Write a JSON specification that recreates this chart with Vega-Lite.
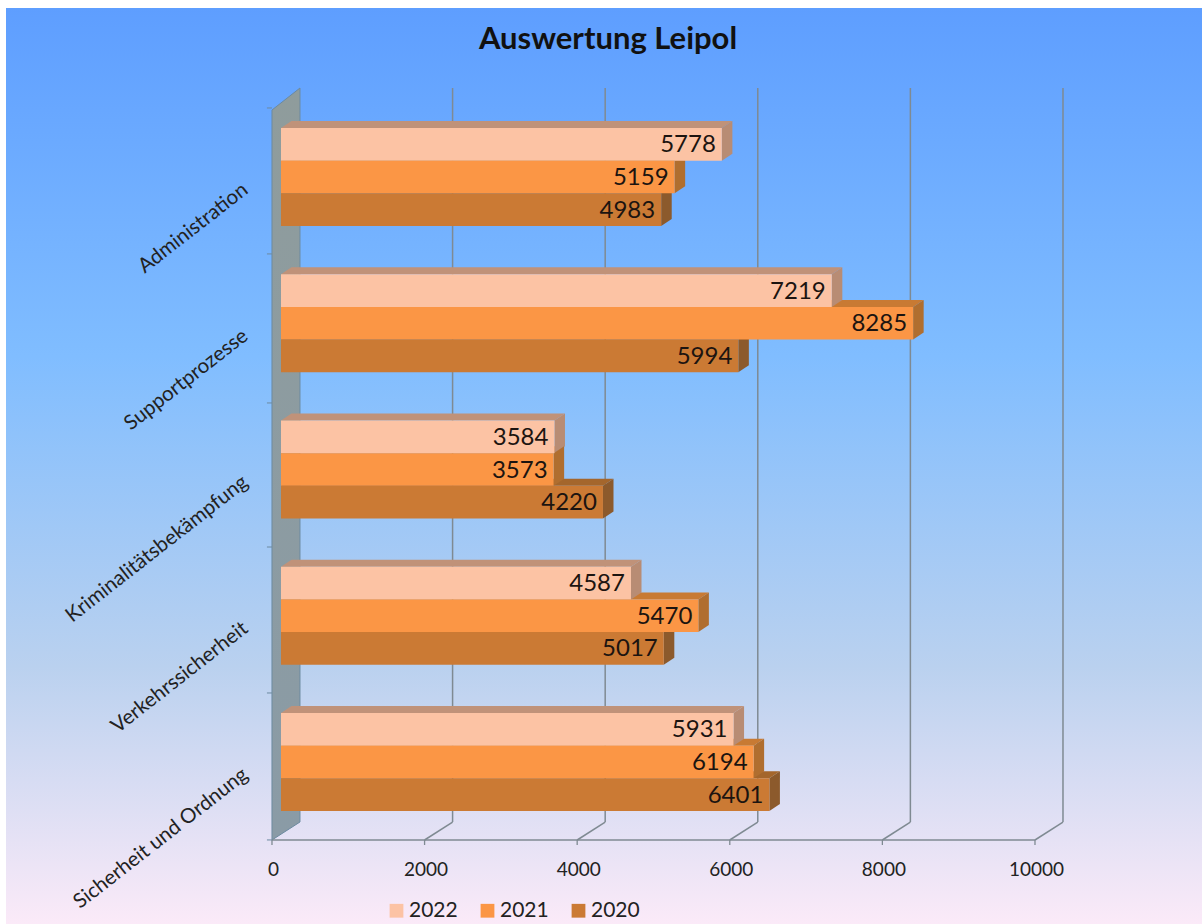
{
"$schema":"https://vega.github.io/schema/vega-lite/v6.json",
"width":1196,"height":916,
"padding":{"left":6,"top":8,"right":0,"bottom":0},
"autosize":{"type":"none"},
"background":"#ffffff",
"view":{"stroke":null,"fill":{"gradient":"linear","x1":0,"y1":0,"x2":0,"y2":1,"stops":[{"offset":0,"color":"#5e9eff"},{"offset":0.38,"color":"#80bdff"},{"offset":0.72,"color":"#bad1ef"},{"offset":1,"color":"#fbeaf8"}]}},
"title":{"text":"Auswertung Leipol","font":"Lato","fontSize":31,"fontWeight":"bold","color":"#111111","anchor":"middle","offset":-48,"dx":4},
"config":{"font":"Lato"},
"datasets":{
"bars":[
{"category":"Sicherheit und Ordnung","year":"2022","value":5931},
{"category":"Sicherheit und Ordnung","year":"2021","value":6194},
{"category":"Sicherheit und Ordnung","year":"2020","value":6401},
{"category":"Verkehrssicherheit","year":"2022","value":4587},
{"category":"Verkehrssicherheit","year":"2021","value":5470},
{"category":"Verkehrssicherheit","year":"2020","value":5017},
{"category":"Kriminalitätsbekämpfung","year":"2022","value":3584},
{"category":"Kriminalitätsbekämpfung","year":"2021","value":3573},
{"category":"Kriminalitätsbekämpfung","year":"2020","value":4220},
{"category":"Supportprozesse","year":"2022","value":7219},
{"category":"Supportprozesse","year":"2021","value":8285},
{"category":"Supportprozesse","year":"2020","value":5994},
{"category":"Administration","year":"2022","value":5778},
{"category":"Administration","year":"2021","value":5159},
{"category":"Administration","year":"2020","value":4983}],
"ticks":[{"t":0},{"t":2000},{"t":4000},{"t":6000},{"t":8000},{"t":10000}]
},
"layer":[
{"data":{"values":[{"d":0,"xp":-118,"lo":-0.5333,"hi":4.458},{"d":1,"xp":249,"lo":-0.4103,"hi":4.6085}]},
 "mark":{"type":"area","orient":"vertical","fill":{"gradient":"linear","x1":0,"y1":0,"x2":0,"y2":1,"stops":[{"offset":0,"color":"#8f9c9c"},{"offset":1,"color":"#8a9ba6"}]},"stroke":"#6c8aa0","strokeWidth":1},
 "encoding":{
  "x":{"field":"xp","type":"quantitative","title":null,"scale":{"domain":[-3604,12071],"nice":false,"zero":false},
   "axis":{"values":[0,2000,4000,6000,8000,10000],"grid":false,"domain":false,"ticks":false,"offset":-84,"labelOffset":-8,"labelPadding":20,"labelFont":"Lato","labelFontSize":19,"labelColor":"#222222","labelFlush":false,"format":"d","labelOverlap":false}},
  "y":{"field":"lo","type":"quantitative","title":null,"scale":{"domain":[-1.1077,5.1556],"nice":false,"zero":false},
   "axis":{"values":[0,1,2,3,4],"grid":false,"domain":false,"ticks":false,"offset":-266,"labelAngle":-38,"labelAlign":"right","labelBaseline":"middle","labelOffset":10,"labelPadding":27,"labelFont":"Lato","labelFontSize":20.5,"labelColor":"#222222","labelOverlap":false,"labelLimit":400,"labelExpr":"['Sicherheit und Ordnung','Verkehrssicherheit','Kriminalitätsbekämpfung','Supportprozesse','Administration'][datum.value]"}},
  "y2":{"field":"hi"}
 }},
{"data":{"name":"ticks"},
 "transform":[{"filter":"datum.t>0"},{"calculate":"datum.t+249","as":"xb"},{"calculate":"-0.4103","as":"ya"},{"calculate":"4.6085","as":"yb"}],
 "mark":{"type":"rule","color":"#7f8a92","strokeWidth":1.5},
 "encoding":{
  "x":{"field":"xb","type":"quantitative","scale":{"domain":[-3604,12071],"nice":false,"zero":false}},
  "y":{"field":"ya","type":"quantitative","scale":{"domain":[-1.1077,5.1556],"nice":false,"zero":false}},
  "y2":{"field":"yb"}
 }},
{"data":{"name":"ticks"},
 "transform":[{"filter":"datum.t>0"},{"calculate":"datum.t+249","as":"xb"},{"calculate":"datum.t-118","as":"xf"},{"calculate":"-0.5333","as":"ya"},{"calculate":"-0.4103","as":"yb"}],
 "mark":{"type":"rule","color":"#7f8a92","strokeWidth":1.5},
 "encoding":{
  "x":{"field":"xf","type":"quantitative","scale":{"domain":[-3604,12071],"nice":false,"zero":false}},
  "x2":{"field":"xb"},
  "y":{"field":"ya","type":"quantitative","scale":{"domain":[-1.1077,5.1556],"nice":false,"zero":false}},
  "y2":{"field":"yb"}
 }},
{"data":{"name":"ticks"},
 "transform":[{"calculate":"datum.t-118","as":"xf"},{"calculate":"-0.5333","as":"ya"},{"calculate":"-0.5675","as":"yb"}],
 "mark":{"type":"rule","color":"#7f8a92","strokeWidth":1.3},
 "encoding":{
  "x":{"field":"xf","type":"quantitative","scale":{"domain":[-3604,12071],"nice":false,"zero":false}},
  "y":{"field":"ya","type":"quantitative","scale":{"domain":[-1.1077,5.1556],"nice":false,"zero":false}},
  "y2":{"field":"yb"}
 }},
{"data":{"values":[{"a":-118,"b":9882,"ya":-0.5333}]},
 "mark":{"type":"rule","color":"#7f8a92","strokeWidth":1.7},
 "encoding":{
  "x":{"field":"a","type":"quantitative","scale":{"domain":[-3604,12071],"nice":false,"zero":false}},
  "x2":{"field":"b"},
  "y":{"field":"ya","type":"quantitative","scale":{"domain":[-1.1077,5.1556],"nice":false,"zero":false}}
 }},
{"data":{"values":[{"b":-0.533,"a":-184,"c":-118},{"b":0.472,"a":-184,"c":-118},{"b":1.47,"a":-184,"c":-118},{"b":2.455,"a":-184,"c":-118},{"b":3.474,"a":-184,"c":-118},{"b":4.472,"a":-184,"c":-118}]},
 "mark":{"type":"rule","color":"#6c8aa0","strokeWidth":1},
 "encoding":{
  "x":{"field":"a","type":"quantitative","scale":{"domain":[-3604,12071],"nice":false,"zero":false}},
  "x2":{"field":"c"},
  "y":{"field":"b","type":"quantitative","scale":{"domain":[-1.1077,5.1556],"nice":false,"zero":false}}
 }},
{"data":{"name":"bars"},
 "transform":[
  {"calculate":"indexof(['Sicherheit und Ordnung','Verkehrssicherheit','Kriminalitätsbekämpfung','Supportprozesse','Administration'],datum.category)+(indexof(['2020','2021','2022'],datum.year)-1)*0.2236","as":"yc"},
  {"calculate":"[0,1]","as":"t"},{"flatten":["t"]},
  {"calculate":"datum.t*138","as":"xa"},{"calculate":"datum.value+datum.t*138","as":"xb"},
  {"calculate":"datum.yc+0.1118+datum.t*0.0479","as":"yy"}],
 "mark":{"type":"area","orient":"horizontal"},
 "encoding":{
  "x":{"field":"xa","type":"quantitative","scale":{"domain":[-3604,12071],"nice":false,"zero":false}},
  "x2":{"field":"xb"},
  "y":{"field":"yy","type":"quantitative","scale":{"domain":[-1.1077,5.1556],"nice":false,"zero":false}},
  "detail":{"field":"category"},
  "color":{"field":"year","type":"nominal","legend":null,"scale":{"domain":["2022","2021","2020"],"range":["#c09279","#c87a33","#a4662c"]}}
 }},
{"data":{"name":"bars"},
 "transform":[
  {"calculate":"indexof(['Sicherheit und Ordnung','Verkehrssicherheit','Kriminalitätsbekämpfung','Supportprozesse','Administration'],datum.category)+(indexof(['2020','2021','2022'],datum.year)-1)*0.2236","as":"yc"},
  {"calculate":"[0,1]","as":"t"},{"flatten":["t"]},
  {"calculate":"datum.value+datum.t*138","as":"xa"},
  {"calculate":"datum.yc-0.1118+datum.t*0.0479","as":"y0"},
  {"calculate":"datum.yc+0.1118+datum.t*0.0479","as":"y1"}],
 "mark":{"type":"area","orient":"vertical"},
 "encoding":{
  "x":{"field":"xa","type":"quantitative","scale":{"domain":[-3604,12071],"nice":false,"zero":false}},
  "y":{"field":"y0","type":"quantitative","scale":{"domain":[-1.1077,5.1556],"nice":false,"zero":false}},
  "y2":{"field":"y1"},
  "detail":{"field":"category"},
  "color":{"field":"year","type":"nominal","legend":null,"scale":{"domain":["2022","2021","2020"],"range":["#b88c74","#b06e2f","#8c5a2c"]}}
 }},
{"data":{"name":"bars"},
 "transform":[
  {"calculate":"indexof(['Sicherheit und Ordnung','Verkehrssicherheit','Kriminalitätsbekämpfung','Supportprozesse','Administration'],datum.category)+(indexof(['2020','2021','2022'],datum.year)-1)*0.2236","as":"yc"},
  {"calculate":"datum.yc-0.1118","as":"y0"},{"calculate":"datum.yc+0.1118","as":"y1"},{"calculate":"0","as":"x0"}],
 "mark":{"type":"rect"},
 "encoding":{
  "x":{"field":"x0","type":"quantitative","scale":{"domain":[-3604,12071],"nice":false,"zero":false}},
  "x2":{"field":"value"},
  "y":{"field":"y0","type":"quantitative","scale":{"domain":[-1.1077,5.1556],"nice":false,"zero":false}},
  "y2":{"field":"y1"},
  "color":{"field":"year","type":"nominal","title":null,"scale":{"domain":["2022","2021","2020"],"range":["#fcc3a4","#fb9645","#cb7a34"]},
   "legend":{"orient":"none","legendX":380,"legendY":892,"direction":"horizontal","columns":3,"symbolType":"square","symbolSize":190,"symbolStrokeWidth":0,"labelFont":"Lato","labelFontSize":21,"labelColor":"#222222","columnPadding":19,"labelOffset":2,"padding":0}}
 }},
{"data":{"name":"bars"},
 "transform":[
  {"calculate":"indexof(['Sicherheit und Ordnung','Verkehrssicherheit','Kriminalitätsbekämpfung','Supportprozesse','Administration'],datum.category)+(indexof(['2020','2021','2022'],datum.year)-1)*0.2236","as":"yc"}],
 "mark":{"type":"text","align":"right","baseline":"middle","dx":-6,"dy":1,"font":"Lato","fontSize":24,"color":"#1c1410"},
 "encoding":{
  "x":{"field":"value","type":"quantitative","scale":{"domain":[-3604,12071],"nice":false,"zero":false}},
  "y":{"field":"yc","type":"quantitative","scale":{"domain":[-1.1077,5.1556],"nice":false,"zero":false}},
  "text":{"field":"value","type":"quantitative","format":"d"}
 }}
],
"resolve":{"scale":{"color":"independent"}}
}
